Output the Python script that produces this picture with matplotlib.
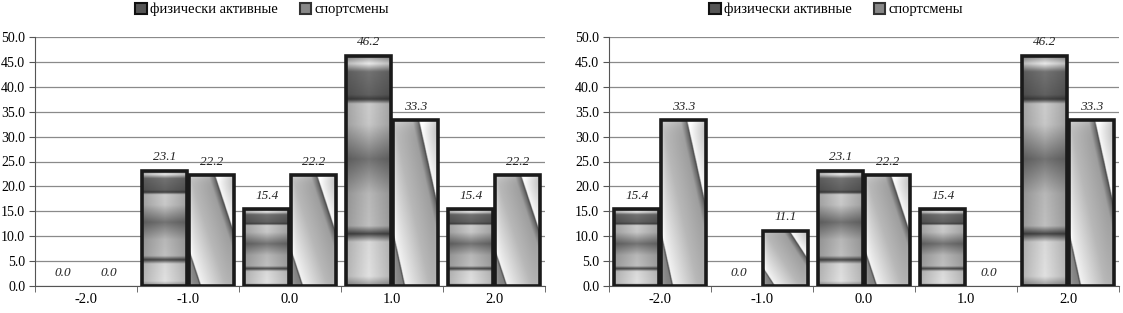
import numpy as np
import matplotlib
matplotlib.use('Agg')
import matplotlib.pyplot as plt
import matplotlib.patches as patches

# data
categories = ['-2.0', '-1.0', '0.0', '1.0', '2.0']
left_active = [0.0, 23.1, 15.4, 46.2, 15.4]
left_sport = [0.0, 22.2, 22.2, 33.3, 22.2]
right_active = [15.4, 0.0, 23.1, 15.4, 46.2]
right_sport = [33.3, 11.1, 22.2, 0.0, 33.3]
series_names = ['физически активные', 'спортсмены']

plt.rcParams['font.family'] = ['Liberation Serif', 'DejaVu Serif']

W, H = 1123, 313
fig = plt.figure(figsize=(W / 100, H / 100), dpi=100)

# vertical band profile for the "active" bars (t = 0 bottom .. 1 top)
band_t = [0.0, 0.04, 0.19, 0.225, 0.26, 0.4, 0.55, 0.7, 0.79, 0.81, 0.83, 0.93, 0.965, 1.0]
band_v = [0.6, 0.88, 0.85, 0.28, 0.75, 0.72, 0.45, 0.78, 0.8, 0.25, 0.38, 0.45, 0.92, 0.55]

# diagonal profile for the "sport" bars (d = x + 0.8*y)
diag_d = [0.0, 0.22, 0.25, 0.27, 0.8, 1.22, 1.33, 1.36, 1.38, 1.8]
diag_v = [0.55, 0.5, 0.25, 0.95, 0.72, 0.62, 0.4, 0.25, 0.97, 0.68]


def active_img():
    t = np.linspace(0, 1, 240)
    v = np.interp(t, band_t, band_v)
    x = np.linspace(0, 1, 40)
    side = 1 - 0.2 * np.abs(x - 0.5) * 2
    return v[:, None] * side[None, :]


def sport_img():
    yy, xx = np.mgrid[0:1:240j, 0:1:80j]
    img = np.interp(xx + 0.8 * yy, diag_d, diag_v)
    edge = np.minimum(np.minimum(xx, 1 - xx), 1 - yy)
    img = img + 0.12 * np.exp(-edge / 0.04)
    return np.clip(img, 0, 1)


def gradient_bar(ax, x, h, w, kind):
    if h <= 0:
        return
    rect = patches.Rectangle((x - w / 2, 0), w, h, facecolor='none',
                             edgecolor='#1a1a1a', linewidth=2.6, zorder=4)
    ax.add_patch(rect)
    img = active_img() if kind == 0 else sport_img()
    im = ax.imshow(img, cmap='gray', vmin=0, vmax=1, origin='lower',
                   extent=(x - w / 2, x + w / 2, 0, h), aspect='auto',
                   zorder=3, interpolation='bilinear')
    im.set_clip_path(rect)


def panel(left_px, active, sport):
    ax = fig.add_axes([left_px / W, 1 - 286 / H, 510 / W, 249 / H])
    idx = np.arange(len(categories))
    w = 0.445
    off = 0.228
    for i in idx:
        gradient_bar(ax, i - off, active[i], w, 0)
        gradient_bar(ax, i + off, sport[i], w, 1)
        ax.text(i - off, active[i] + 1.5, f'{active[i]:.1f}', ha='center',
                va='bottom', fontsize=9.5, style='italic', color='#222')
        ax.text(i + off, sport[i] + 1.5, f'{sport[i]:.1f}', ha='center',
                va='bottom', fontsize=9.5, style='italic', color='#222')
    ax.set_xlim(-0.5, len(categories) - 0.5)
    ax.set_ylim(0, 50)
    ax.set_yticks(np.arange(0, 51, 5))
    ax.set_yticklabels([f'{v:.1f}' for v in np.arange(0, 51, 5)], fontsize=10)
    ax.set_xticks(idx)
    ax.set_xticklabels(categories, fontsize=10.5)
    ax.set_xticks(np.arange(-0.5, len(categories), 1), minor=True)
    ax.tick_params(axis='x', which='major', length=0, pad=5)
    ax.tick_params(axis='x', which='minor', length=4, color='#555')
    ax.tick_params(axis='y', length=4, color='#555', pad=3)
    ax.grid(axis='y', color='#8a8a8a', linewidth=0.9)
    ax.set_axisbelow(True)
    for s in ['top', 'right']:
        ax.spines[s].set_visible(False)
    ax.spines['left'].set_color('#555')
    ax.spines['bottom'].set_color('#555')
    handles = [patches.Rectangle((0, 0), 1, 1, facecolor='#555', edgecolor='#111', lw=1.5),
               patches.Rectangle((0, 0), 1, 1, facecolor='#888', edgecolor='#333', lw=1.5)]
    ax.legend(handles, series_names, loc='lower center',
              bbox_to_anchor=(0.5 - 28 / 510, 1.06),
              ncol=2, frameon=False, fontsize=10.5, handlelength=0.8, handleheight=0.8,
              handletextpad=0.2, columnspacing=1.5, borderaxespad=0)
    return ax


panel(35, left_active, left_sport)
panel(609, right_active, right_sport)

fig.savefig('out.png', dpi=100)
